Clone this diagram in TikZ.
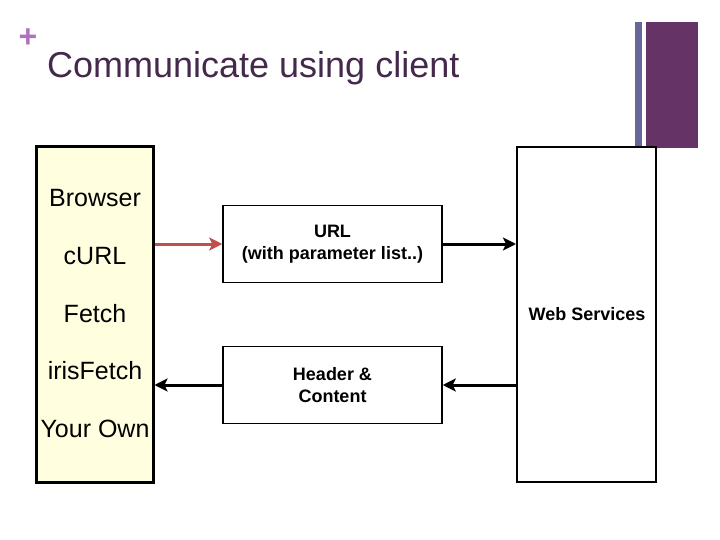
\documentclass[tikz,border=0pt]{standalone}
\usepackage{fontspec}
\setmainfont{Liberation Sans}
\usetikzlibrary{positioning,arrows.meta}

\definecolor{slideplum}{HTML}{663366}
\definecolor{slidebar}{HTML}{666699}
\definecolor{slidetitle}{HTML}{45294D}
\definecolor{slideplus}{HTML}{B070C0}
\definecolor{clientfill}{HTML}{FFFFE0}
\definecolor{reqred}{HTML}{C0504D}

\tikzset{
  msgbox/.style={draw=black,line width=1.5pt,fill=white,minimum width=219pt,
    minimum height=77pt,align=center,font=\fontsize{18}{22}\selectfont\bfseries},
  clientitem/.style={font=\fontsize{25}{30}\selectfont},
  flow/.style={line width=3pt,-{Stealth[length=13pt,width=13pt,inset=3pt]}}
}

\begin{document}
\begin{tikzpicture}[x=1pt,y=-1pt]
\useasboundingbox (0,0) rectangle (720,540);

% slide decoration
\fill[slidebar] (635,22) rectangle (642,148);
\fill[slideplum] (646,22) rectangle (698,148);
\node[text=slideplus,font=\fontsize{32}{32}\selectfont\bfseries] (plus) at (28,38) {+};
\node[anchor=base west,inner sep=0pt,text=slidetitle,font=\fontsize{36}{40}\selectfont]
  (title) at (47,78) {Communicate using client};

% client side
\node[draw=black,line width=3pt,fill=clientfill,minimum width=117pt,minimum height=335pt,
  inner sep=0pt] (client) at (94.5,314.5) {};
\node[clientitem] (browser) at (95,198) {Browser};
\node[clientitem] (curl) at (95,256) {cURL};
\node[clientitem] (fetch) at (95,314) {Fetch};
\node[clientitem] (iris) at (95,371) {irisFetch};
\node[clientitem] (own) at (95,429) {Your Own};

% server side
\node[draw=black,line width=2pt,fill=white,minimum width=139pt,minimum height=335pt,
  inner sep=0pt] (server) at (586.5,314.5) {};
\node[font=\fontsize{18}{22}\selectfont\bfseries] (websvc) at (587,314) {Web Services};

% messages
\node[msgbox] (req) at (332.5,244) {URL\\(with parameter list..)};
\node[msgbox] (resp) at (332.5,385) {Header \&\\Content};

\draw[flow,reqred] (client.east |- req.west) -- (req.west);
\draw[flow] (req.east) -- (req.east -| server.west);
\draw[flow] (resp.east -| server.west) -- (resp.east);
\draw[flow] (resp.west) -- (resp.west -| client.east);
\end{tikzpicture}
\end{document}
